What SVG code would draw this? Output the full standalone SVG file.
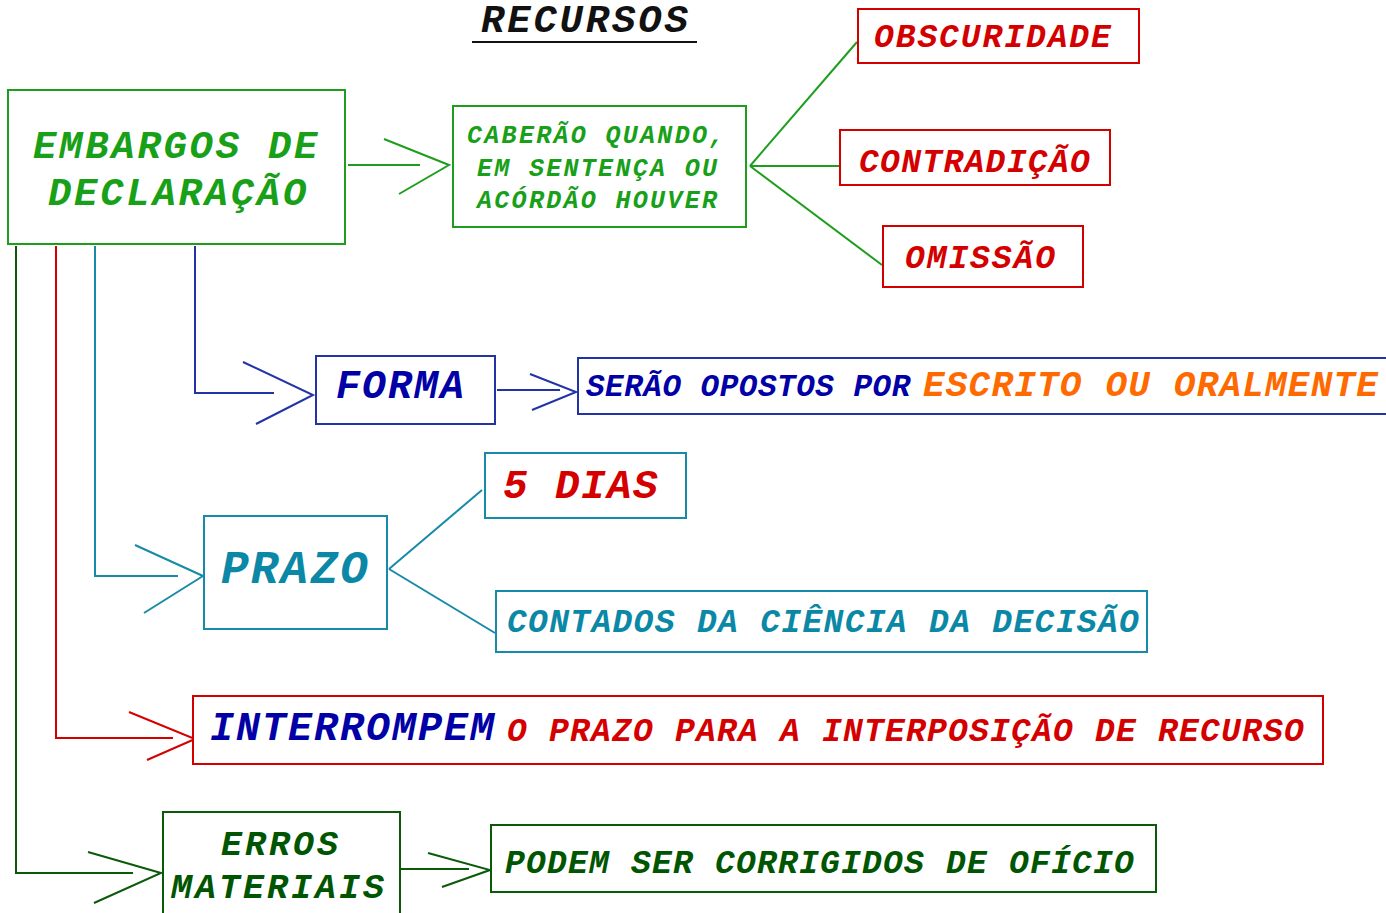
<svg xmlns="http://www.w3.org/2000/svg" width="1386" height="913" viewBox="0 0 1386 913">
<style>
.t{font-family:"Liberation Mono","Courier New",monospace;font-weight:bold;font-style:italic}
.box{fill:#fff;stroke-width:2}
.ln{fill:none;stroke-width:2}
.g{stroke:#1d9e1d}.gt{fill:#18a018}
.d{stroke:#0a5a0a}.dt{fill:#005500}
.r{stroke:#d40000}.rt{fill:#d40000}
.b{stroke:#2233a6}.bt{fill:#0000a6}
.c{stroke:#168aa8}.ct{fill:#0a88a6}
.ot{fill:#ff6a00}
</style>
<rect width="1386" height="913" fill="#fff"/>
<g id="title">
<text class="t" x="481" y="32" font-size="39" letter-spacing="2.8" fill="#111">RECURSOS</text>
<line x1="472" y1="42" x2="697" y2="42" stroke="#111" stroke-width="2"/>
</g>
<g id="connectors">
<line class="ln g" x1="348" y1="165" x2="420" y2="165"/>
<polyline class="ln g" points="384,139 449,165 399,194"/>
<line class="ln g" x1="750" y1="166" x2="857" y2="42"/>
<line class="ln g" x1="750" y1="166" x2="840" y2="166"/>
<line class="ln g" x1="750" y1="166" x2="882" y2="265"/>
<polyline class="ln d" points="16,246 16,873 133,873"/>
<polyline class="ln d" points="88,852 161,873 94,903"/>
<line class="ln d" x1="400" y1="869" x2="469" y2="869"/>
<polyline class="ln d" points="428,853 490,870 442,887"/>
<polyline class="ln r" points="56,246 56,738 173,738"/>
<polyline class="ln r" points="129,712 195,739 147,760"/>
<polyline class="ln c" points="95,246 95,576 178,576"/>
<polyline class="ln c" points="135,545 203,576 144,613"/>
<line class="ln c" x1="389" y1="569" x2="482" y2="490"/>
<line class="ln c" x1="389" y1="569" x2="495" y2="633"/>
<polyline class="ln b" points="195,246 195,393 274,393"/>
<polyline class="ln b" points="243,362 313,395 256,424"/>
<line class="ln b" x1="497" y1="390" x2="560" y2="390"/>
<polyline class="ln b" points="530,374 576,392 532,410"/>
</g>
<g id="embargos">
<rect class="box g" x="8" y="90" width="337" height="154"/>
<text class="t gt" font-size="39" letter-spacing="2.7"><tspan x="33" y="158">EMBARGOS DE</tspan><tspan x="48" y="205">DECLARAÇÃO</tspan></text>
</g>
<g id="caberao">
<rect class="box g" x="453" y="106" width="293" height="121"/>
<text class="t gt" font-size="25" letter-spacing="2.3"><tspan x="467" y="143">CABERÃO QUANDO,</tspan><tspan x="477" y="176">EM SENTENÇA OU</tspan><tspan x="477" y="208">ACÓRDÃO HOUVER</tspan></text>
</g>
<g id="obscuridade">
<rect class="box r" x="858" y="9" width="281" height="54"/>
<text class="t rt" x="874" y="47" font-size="33" letter-spacing="1.9">OBSCURIDADE</text>
</g>
<g id="contradicao">
<rect class="box r" x="840" y="130" width="270" height="55"/>
<text class="t rt" x="859" y="172" font-size="33" letter-spacing="1.3">CONTRADIÇÃO</text>
</g>
<g id="omissao">
<rect class="box r" x="883" y="226" width="200" height="61"/>
<text class="t rt" x="905" y="268" font-size="33" letter-spacing="1.9">OMISSÃO</text>
</g>
<g id="forma">
<rect class="box b" x="316" y="356" width="179" height="68"/>
<text class="t bt" x="336" y="398" font-size="40" letter-spacing="2">FORMA</text>
</g>
<g id="serao">
<rect class="box b" x="578" y="358" width="830" height="56"/>
<text class="t" y="396"><tspan class="bt" x="586" font-size="31" letter-spacing="0.5">SERÃO OPOSTOS POR</tspan><tspan class="ot" x="923" font-size="36" letter-spacing="1.2">ESCRITO OU ORALMENTE</tspan></text>
</g>
<g id="dias">
<rect class="box c" x="485" y="453" width="201" height="65"/>
<text class="t rt" x="503" y="498" font-size="41" letter-spacing="1.4">5 DIAS</text>
</g>
<g id="prazo">
<rect class="box c" x="204" y="516" width="183" height="113"/>
<text class="t ct" x="221" y="583" font-size="46" letter-spacing="2.2">PRAZO</text>
</g>
<g id="contados">
<rect class="box c" x="496" y="591" width="651" height="61"/>
<text class="t ct" x="507" y="632" font-size="33" letter-spacing="1.3">CONTADOS DA CIÊNCIA DA DECISÃO</text>
</g>
<g id="interrompem">
<rect class="box r" x="193" y="696" width="1130" height="68"/>
<text class="t" y="740"><tspan class="bt" x="210" font-size="40" letter-spacing="2">INTERROMPEM</tspan><tspan class="rt" x="507" y="741" font-size="33" letter-spacing="1.2">O PRAZO PARA A INTERPOSIÇÃO DE RECURSO</tspan></text>
</g>
<g id="erros">
<rect class="box d" x="163" y="812" width="237" height="110"/>
<text class="t dt" font-size="35" letter-spacing="3"><tspan x="221" y="855">ERROS</tspan><tspan x="171" y="898">MATERIAIS</tspan></text>
</g>
<g id="podem">
<rect class="box d" x="491" y="825" width="665" height="67"/>
<text class="t dt" x="505" y="873" font-size="33" letter-spacing="1.2">PODEM SER CORRIGIDOS DE OFÍCIO</text>
</g>
</svg>
